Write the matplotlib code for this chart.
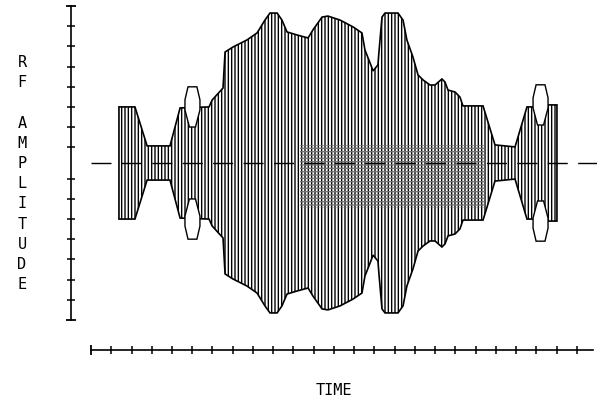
import numpy as np
import matplotlib
matplotlib.use("Agg")
import matplotlib.pyplot as plt
from matplotlib.patches import Rectangle

# upper envelope of the RF burst (time in tick units, amplitude in tick units)
env_time = [1.38, 2.17, 2.77, 3.90, 4.40, 5.83, 5.98, 6.52, 6.62, 7.01, 7.70,
            8.20, 8.59, 8.84, 9.19, 9.43, 9.68, 10.17, 10.72, 10.96, 11.41,
            11.70, 12.30, 12.94, 13.38, 13.53, 13.78, 13.93, 14.17, 14.22,
            14.37, 14.52, 15.16, 15.41, 15.60, 15.90, 16.15, 16.40, 16.74,
            16.99, 17.33, 17.48, 17.63, 17.98, 18.22, 18.37, 19.36, 19.95,
            20.94, 21.53, 22.57, 22.57, 23.01]
env_amp = [2.79, 2.79, 0.85, 0.85, 2.74, 2.79, 3.13, 3.73, 5.52, 5.77, 6.12,
           6.47, 7.11, 7.46, 7.46, 7.11, 6.52, 6.37, 6.22, 6.62, 7.26,
           7.31, 7.11, 6.77, 6.47, 5.62, 4.98, 4.58, 4.88, 5.52,
           7.26, 7.46, 7.46, 7.11, 6.12, 5.27, 4.38, 4.13, 3.88,
           3.88, 4.18, 4.03, 3.63, 3.53, 3.28, 2.84, 2.84, 0.90,
           0.80, 2.79, 2.79, 2.89, 2.89]

# the two hexagonal pods (centre time, centre amplitude)
pod_time = [5.01, 22.20]
pod_amp = [2.79, 2.89]

# shaded block in the middle of the burst
shade_time = [10.32, 19.46]
shade_amp = [-2.24, 0.90]

# axis ticks
y_ticks = [-6.8, -5.8, -4.8, -3.8, -2.8, -1.8, -0.8,
           0.8, 1.8, 2.8, 3.8, 4.8, 5.8, 6.8]
y_caps = [-7.8, 7.8]
x_ticks = list(range(1, 25))
x_end = 24.8

ylabel = "RF AMPLITUDE"
xlabel = "TIME"


def main():
    plt.rcParams['hatch.linewidth'] = 1.0
    fig = plt.figure(figsize=(5.97, 3.98), dpi=100)
    ax = fig.add_axes([0, 0, 1, 1])
    ax.set_xlim(-4.494, 24.988)
    ax.set_ylim(-11.692, 8.109)

    # envelope polygon, mirrored about the zero line
    t = np.array(env_time)
    a = np.array(env_amp)
    poly_t = np.concatenate([t, t[::-1]])
    poly_a = np.concatenate([a, -a[::-1]])
    ax.fill(poly_t, poly_a, facecolor='white', edgecolor='black',
            hatch='|||||', lw=1.2, zorder=2)

    ax.add_patch(Rectangle((shade_time[0], shade_amp[0]),
                           shade_time[1] - shade_time[0],
                           shade_amp[1] - shade_amp[0],
                           facecolor='none', edgecolor='0.45',
                           hatch='-----', lw=0, zorder=3))

    # hexagon pods above and below the line
    hx = np.array([-0.22, 0.22, 0.37, 0.37, 0.15, -0.15, -0.37, -0.37])
    hy = np.array([1.0, 1.0, 0.35, -0.15, -1.0, -1.0, -0.15, 0.35])
    for pt, pa in zip(pod_time, pod_amp):
        for sign in (1, -1):
            ax.fill(pt + hx, sign * (pa + hy), facecolor='white',
                    edgecolor='black', lw=1.0, zorder=4)

    # dashed zero line
    ax.plot([0, 24.99], [0, 0], color='black', lw=1.0,
            dashes=(14.4, 7.5), zorder=5)

    # axes drawn as detached spines
    for side in ('top', 'right'):
        ax.spines[side].set_visible(False)
    ax.spines['left'].set_position(('data', -0.99))
    ax.spines['left'].set_bounds(y_caps[0], y_caps[1])
    ax.spines['bottom'].set_position(('data', -9.30))
    ax.spines['bottom'].set_bounds(0, x_end)
    for sp in ('left', 'bottom'):
        ax.spines[sp].set_linewidth(1.2)

    ax.set_yticks(y_ticks)
    ax.set_yticks(y_caps, minor=True)
    ax.set_xticks(x_ticks)
    ax.set_xticks([0], minor=True)
    ax.tick_params(which='major', direction='inout', length=5.5, width=1.1,
                   labelleft=False, labelbottom=False)
    ax.tick_params(which='minor', direction='inout', length=7.5, width=1.3)

    # stacked y label, one letter per line
    for i, ch in enumerate(ylabel):
        if ch != ' ':
            ax.text(-3.41, 4.776 - i * 1.005, ch, family='DejaVu Sans Mono',
                    fontsize=11, ha='center', va='baseline')
    ax.text(11.98, -11.54, xlabel, family='DejaVu Sans Mono', fontsize=11,
            ha='center', va='baseline')

    fig.savefig('out.png', dpi=100)


if __name__ == '__main__':
    main()
